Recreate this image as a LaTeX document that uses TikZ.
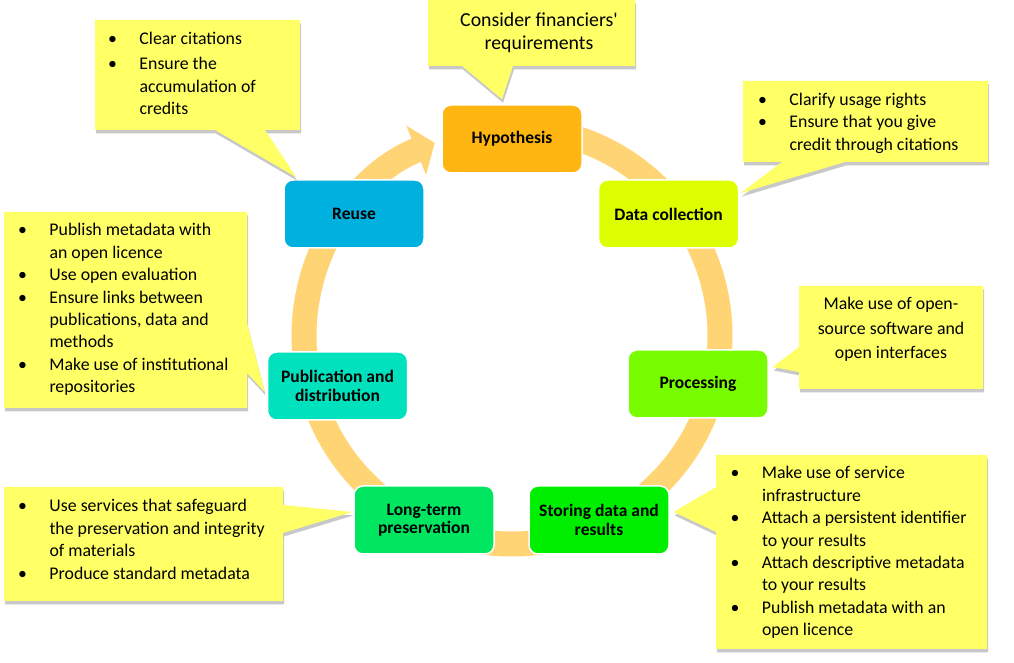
\documentclass[tikz,border=0pt]{standalone}
\usepackage{fontspec}
\setmainfont{Carlito}
\usetikzlibrary{arrows.meta,calc}
\newcommand{\itm}{\makebox[31.5pt][l]{\textbullet}}
\newcommand{\cont}{\hspace*{31.5pt}}

\begin{document}
\begin{tikzpicture}[x=1pt,y=1pt,
  stage/.style={draw=white,line width=1.5pt,rounded corners=9pt,minimum width=140pt,
    minimum height=68pt,inner sep=0pt,align=center,font=\bfseries\fontsize{17.5}{18.5}\selectfont},
  note/.style={fill=noteFill,preaction={fill=shadowFill,transform canvas={xshift=1pt,yshift=-3.5pt}}},
  notetext/.style={inner sep=0pt,outer sep=0pt,align=left,anchor=base west,
    font=\fontsize{17.8}{22.4}\selectfont},
  ring/.style={draw=ringColor,line width=25pt,-{Triangle[width=52pt,length=20pt]}}]
\definecolor{fillColor}{RGB}{255,255,255}
\path[use as bounding box,fill=fillColor] (0,0) rectangle (1014,663);

\definecolor{ringColor}{RGB}{255,212,117}
\definecolor{noteFill}{RGB}{255,255,102}
\definecolor{shadowFill}{RGB}{200,200,200}

\path[ring] (512,327) ++(90:208) arc[start angle=90,end angle=-248.2,radius=208];

\definecolor{hypFill}{RGB}{255,182,18}
\definecolor{collFill}{RGB}{221,255,0}
\definecolor{procFill}{RGB}{119,252,0}
\definecolor{storeFill}{RGB}{0,238,0}
\definecolor{presFill}{RGB}{0,230,96}
\definecolor{pubFill}{RGB}{0,226,190}
\definecolor{reuseFill}{RGB}{0,176,222}

\node[stage,fill=hypFill] (hyp) at (512,524) {Hypothesis};

\node[stage,fill=collFill] (coll) at (668.5,449) {Data collection};

\node[stage,fill=procFill] (proc) at (698,279) {Processing};

\node[stage,fill=storeFill] (store) at (599,143) {Storing data and\\results};

\node[stage,fill=presFill] (pres) at (424,143) {Long-term\\preservation};

\node[stage,fill=pubFill] (pub) at (337.5,277) {Publication and\\distribution};

\node[stage,fill=reuseFill] (reuse) at (354,449) {Reuse};

\path[note] (428,663) -- (635,663) -- (635,597) -- (513,597) --
	($(hyp.north)+(-10,5)$) -- (462,597) -- (428,597) -- cycle;

\path[note] (95,643) -- (300,643) -- (300,533) -- (265,533) --
	($(reuse.north west)+(13,2)$) -- (215,533) -- (95,533) -- cycle;

\path[note] (743,582) -- (988,582) -- (988,501) -- (845,501) --
	($(coll.north east)+(1,-14)$) -- (782,501) -- (743,501) -- cycle;

\path[note] (799,377) -- (983,377) -- (983,274) -- (799,274) -- (799,291) --
	($(proc.east)+(4,17)$) -- (799,316) -- cycle;

\path[note] (716,208) -- (987,208) -- (987,14) -- (716,14) -- (716,131) --
	($(store.east)+(4,8)$) -- (716,176) -- cycle;

\path[note] (4,451) -- (247,451) -- (247,340) --
	($(pub.west)+(-2,-6)$) -- (247,290) -- (247,255) -- (4,255) -- cycle;

\path[note] (4,176) -- (283,176) -- (283,158) --
	($(pres.west)+(-1,8)$) -- (283,130) -- (283,62) -- (4,62) -- cycle;

\node[notetext,align=center,anchor=base,font=\fontsize{19.8}{23}\selectfont] (finText) at (539,613)
	{Consider financiers\textquotesingle\\requirements};

\node[notetext] (reuseText) at (108,548.3)
	{\itm Clear citations\\[2.5pt]\itm Ensure the\\\cont accumulation of\\\cont credits};

\node[notetext] (collText) at (758,512.7)
	{\itm Clarify usage rights\\\itm Ensure that you give\\\cont credit through citations};

\node[notetext,align=center,anchor=base,font=\fontsize{17.8}{24.5}\selectfont] (procText) at (891,304)
	{Make use of open-\\source software and\\open interfaces};

\node[notetext] (storeText) at (730.5,27.2)
	{\itm Make use of service\\\cont infrastructure\\\itm Attach a persistent identifier\\\cont to your results\\\itm Attach descriptive metadata\\\cont to your results\\\itm Publish metadata with an\\\cont open licence};

\node[notetext] (pubText) at (18,270.2)
	{\itm Publish metadata with\\\cont an open licence\\\itm Use open evaluation\\\itm Ensure links between\\\cont publications, data and\\\cont methods\\\itm Make use of institutional\\\cont repositories};

\node[notetext] (presText) at (18,83.8)
	{\itm Use services that safeguard\\\cont the preservation and integrity\\\cont of materials\\\itm Produce standard metadata};
\end{tikzpicture}
\end{document}
